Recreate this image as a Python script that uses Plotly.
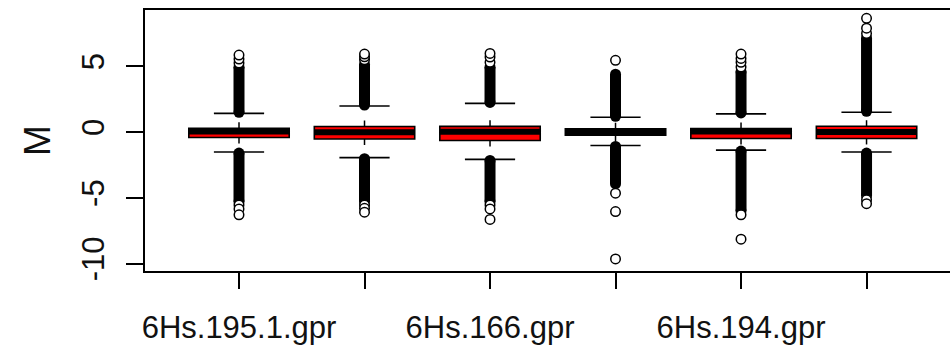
import plotly.graph_objects as go

# ---- data ----
positions = [1, 2, 3, 4, 5, 6]
tick_labels = ["6Hs.195.1.gpr", "", "6Hs.166.gpr", "", "6Hs.194.gpr", ""]

q1 = [-0.42, -0.53, -0.65, -0.25, -0.49, -0.49]
median = [0.04, -0.02, 0.02, 0.0, 0.04, 0.0]
q3 = [0.28, 0.42, 0.43, 0.25, 0.27, 0.44]
whisker_low = [-1.52, -1.95, -2.08, -1.03, -1.38, -1.52]
whisker_high = [1.42, 1.98, 2.18, 1.12, 1.38, 1.50]

# dense runs of outliers (so many points that they merge into a column)
dense_hi_start = [1.50, 2.05, 2.25, 1.20, 1.45, 1.58]
dense_hi_end = [4.95, 5.15, 4.95, 4.40, 4.60, 7.15]
dense_lo_start = [-1.60, -2.03, -2.16, -1.10, -1.45, -1.60]
dense_lo_end = [-5.30, -5.30, -5.30, -3.95, -6.00, -4.85]

# sparse outliers beyond the dense runs
sparse_outliers = [
    [5.25, 5.55, 5.85, -5.55, -5.85, -6.30],
    [5.50, 5.72, 5.93, -5.55, -5.80, -6.10],
    [5.30, 5.70, 5.98, -5.55, -5.85, -6.65],
    [5.45, -4.65, -6.05, -9.65],
    [4.95, 5.30, 5.60, 5.93, -6.30, -8.15],
    [7.50, 7.90, 8.65, -5.15, -5.45],
]

y_ticks = [-10, -5, 0, 5]
y_tick_text = ["-10", "-5", "0", "5"]

# ---- styling ----
BOXWEX = 0.8
STAPLE = 0.2
FONT = "Liberation Sans, Arial, sans-serif"

fig = go.Figure()

# box bodies
fig.add_trace(go.Box(
    x=positions, q1=q1, median=median, q3=q3,
    lowerfence=q1, upperfence=q3,
    width=BOXWEX, whiskerwidth=0,
    fillcolor="#ff0000", line=dict(color="black", width=1.6),
    boxpoints=False, hoverinfo="skip", showlegend=False,
))

# thick median lines
mx, my = [], []
for p, m in zip(positions, median):
    mx += [p - BOXWEX / 2, p + BOXWEX / 2, None]
    my += [m, m, None]
fig.add_trace(go.Scatter(x=mx, y=my, mode="lines",
                         line=dict(color="black", width=6),
                         hoverinfo="skip", showlegend=False))

# dashed whiskers
wx, wy = [], []
for p, a, b, c, d in zip(positions, q3, whisker_high, q1, whisker_low):
    wx += [p, p, None, p, p, None]
    wy += [a, b, None, c, d, None]
fig.add_trace(go.Scatter(x=wx, y=wy, mode="lines",
                         line=dict(color="black", width=1.5, dash="6px,40px"),
                         hoverinfo="skip", showlegend=False))

# staples
sx, sy = [], []
for p, hi, lo in zip(positions, whisker_high, whisker_low):
    sx += [p - STAPLE, p + STAPLE, None, p - STAPLE, p + STAPLE, None]
    sy += [hi, hi, None, lo, lo, None]
fig.add_trace(go.Scatter(x=sx, y=sy, mode="lines",
                         line=dict(color="black", width=1.6),
                         hoverinfo="skip", showlegend=False))

# dense outlier columns
dx, dy = [], []
for p, a, b, c, d in zip(positions, dense_hi_start, dense_hi_end,
                         dense_lo_start, dense_lo_end):
    dx += [p, p, None, p, p, None]
    dy += [a, b, None, c, d, None]
fig.add_trace(go.Scatter(x=dx, y=dy, mode="lines+markers",
                         line=dict(color="black", width=11),
                         marker=dict(symbol="circle", size=11, color="black"),
                         hoverinfo="skip", showlegend=False))

# sparse outliers
ox, oy = [], []
for p, vals in zip(positions, sparse_outliers):
    ox += [p] * len(vals)
    oy += vals
fig.add_trace(go.Scatter(x=ox, y=oy, mode="markers",
                         marker=dict(symbol="circle", size=9.5, color="white",
                                     line=dict(color="black", width=1.5)),
                         hoverinfo="skip", showlegend=False))

fig.update_layout(
    width=950, height=349,
    margin=dict(l=145, r=0, t=10, b=78),
    paper_bgcolor="white", plot_bgcolor="white",
    font=dict(family=FONT, size=31, color="#111111"),
    showlegend=False,
    xaxis=dict(
        range=[0.251, 6.665], tickmode="array", tickvals=positions,
        ticktext=tick_labels, ticks="outside", ticklen=16, tickwidth=1.5,
        tickcolor="black", showline=True, linecolor="black", linewidth=1.5,
        mirror=True, showgrid=False, zeroline=False,
        ticklabelstandoff=12,
    ),
    yaxis=dict(
        range=[-10.57, 9.28], tickmode="array", tickvals=y_ticks,
        ticktext=y_tick_text, tickangle=-90, ticks="outside", ticklen=17,
        tickwidth=1.5, tickcolor="black", showline=True, linecolor="black",
        linewidth=1.5, mirror=False, showgrid=False, zeroline=False,
        title=dict(text="M", standoff=14),
        ticklabelstandoff=10,
    ),
)

fig.write_html("out.html")
